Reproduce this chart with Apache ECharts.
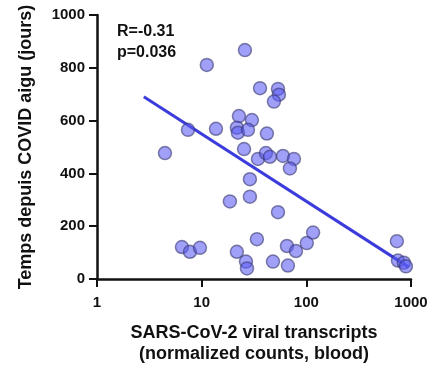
<!DOCTYPE html>
<html>
<head>
<meta charset="utf-8">
<script src="https://cdn.jsdelivr.net/npm/echarts@6/dist/echarts.min.js"></script>
<style>html,body{margin:0;padding:0;background:#fff}#c{width:431px;height:370px}</style>
</head>
<body>
<div id="c"></div>
<script>
// Data
const transcripts = [25.9, 11.2, 36.1, 53.6, 54.7, 49.0, 22.7, 30.2, 13.7, 21.7, 22.2, 27.7, 42.0, 7.4, 4.46, 25.4, 34.5, 41.1, 44.9, 59.8, 76.1, 69.7, 28.9, 28.9, 18.6, 53.6, 6.48, 7.73, 9.63, 21.7, 26.5, 27.1, 33.7, 48.0, 66.7, 65.3, 79.6, 101, 116, 733, 750, 855, 894];
const days = [867, 811, 723, 720, 698, 672, 617, 602, 569, 573, 554, 565, 551, 565, 477, 492, 455, 477, 463, 466, 455, 419, 378, 312, 294, 253, 121, 103, 118, 103, 66, 40, 151, 66, 51, 125, 106, 136, 176, 143, 70, 62, 48];
const fitX = [2.8, 950];
const fitY = [690, 45];
const xTicks = [1, 10, 100, 1000];
const yTicks = [0, 200, 400, 600, 800, 1000];
const statsText = ['R=-0.31', 'p=0.036'];

const points = transcripts.map((x, i) => [x, days[i]]);
const fitLine = fitX.map((x, i) => [x, fitY[i]]);

const chart = echarts.init(document.getElementById('c'), null, {renderer: 'canvas'});
const font = 'Liberation Sans, Arial, sans-serif';
chart.setOption({
  animation: false,
  backgroundColor: '#fff',
  grid: {left: 97, right: 20, top: 15, bottom: 83, containLabel: false},
  xAxis: {
    type: 'log', logBase: 10, min: xTicks[0], max: xTicks[xTicks.length - 1],
    name: 'SARS-CoV-2 viral transcripts\n(normalized counts, blood)',
    nameLocation: 'middle', nameGap: 44,
    nameTextStyle: {fontFamily: font, fontWeight: 'bold', fontSize: 18, color: '#111', lineHeight: 21},
    axisLine: {lineStyle: {color: '#111', width: 2.5}},
    axisTick: {length: 8, lineStyle: {color: '#111', width: 2}},
    minorTick: {show: false},
    axisLabel: {fontFamily: font, fontWeight: 'bold', fontSize: 15, color: '#111', margin: 16,
      formatter: v => String(Math.round(v))},
    splitLine: {show: false}
  },
  yAxis: {
    type: 'value', min: yTicks[0], max: yTicks[yTicks.length - 1], interval: 200,
    name: 'Temps depuis COVID aigu (jours)',
    nameLocation: 'middle', nameGap: 62, nameRotate: 90,
    nameTextStyle: {fontFamily: font, fontWeight: 'bold', fontSize: 18, color: '#111'},
    axisLine: {show: true, lineStyle: {color: '#111', width: 2.5}},
    axisTick: {show: true, length: 8, lineStyle: {color: '#111', width: 2}},
    axisLabel: {fontFamily: font, fontWeight: 'bold', fontSize: 15, color: '#111', margin: 12,
      formatter: v => String(v)},
    splitLine: {show: false}
  },
  graphic: [
    {type: 'text', left: 117, top: 24, style: {text: statsText[0], font: 'bold 16px ' + font, fill: '#111'}},
    {type: 'text', left: 117, top: 45, style: {text: statsText[1], font: 'bold 16px ' + font, fill: '#111'}}
  ],
  series: [
    {
      type: 'line', data: fitLine, symbol: 'none', z: 2,
      lineStyle: {color: '#3c3cdc', width: 3}
    },
    {
      type: 'scatter', data: points, symbol: 'circle', symbolSize: 13, z: 3,
      itemStyle: {color: 'rgba(90,90,245,0.72)', borderColor: 'rgba(55,55,110,0.75)', borderWidth: 1.5}
    }
  ]
});
</script>
</body>
</html>
